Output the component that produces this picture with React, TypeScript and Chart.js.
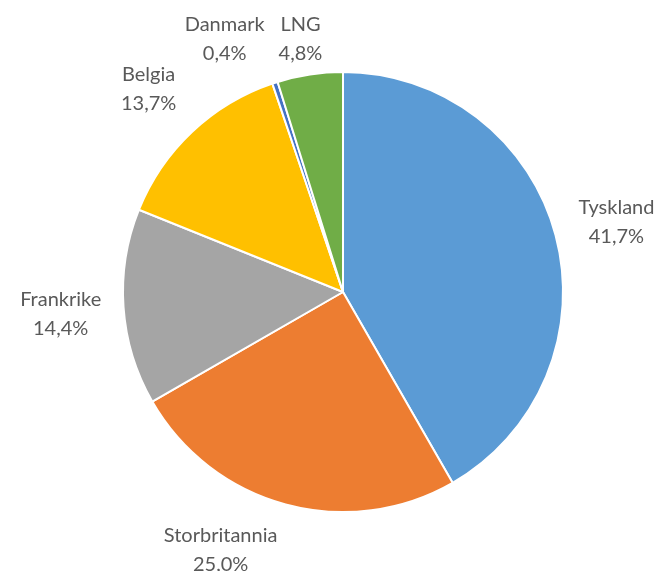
import React, { useEffect, useRef } from "react";
import { Chart, registerables } from "chart.js";

Chart.register(...registerables);

const CATEGORIES = ["Tyskland", "Storbritannia", "Frankrike", "Belgia", "Danmark", "LNG"];
const SHARES = [41.7, 25.0, 14.4, 13.7, 0.4, 4.8];
const COLORS = ["#5B9BD5", "#ED7D31", "#A5A5A5", "#FFC000", "#4472C4", "#70AD47"];

const fmt = (v: number) => v.toFixed(1).replace(".", ",") + "%";

const outsideLabels = {
  id: "outsideLabels",
  afterDatasetsDraw(chart: any) {
    const ctx = chart.ctx;
    const meta = chart.getDatasetMeta(0);
    const W = chart.width;
    const H = chart.height;
    const offset = 63;
    const lh = 29;
    const baseShift = 3;
    ctx.save();
    ctx.font = "20px Lato";
    ctx.fillStyle = "#595959";
    ctx.textAlign = "center";
    ctx.textBaseline = "middle";
    const boxes = meta.data.map((arc: any, i: number) => {
      const p = arc.getProps(["x", "y", "startAngle", "endAngle", "outerRadius"], true);
      let a = (p.startAngle + p.endAngle) / 2;
      const lines = [CATEGORIES[i], fmt(SHARES[i])];
      const w = Math.max(...lines.map((l) => ctx.measureText(l).width));
      const hh = (lh * (lines.length - 1) + 20) / 2;
      const R = p.outerRadius + offset;
      const place = (ang: number) => ({ cx: p.x + Math.cos(ang) * R, cy: p.y + Math.sin(ang) * R });
      let pos = place(a);
      let guard = 0;
      while (pos.cy + hh > H + 1 && guard++ < 180) {
        a += (a < Math.PI / 2 ? -1 : 1) * (Math.PI / 180) * 0.5;
        pos = place(a);
      }
      if (pos.cy - hh < 12) pos.cy = 12 + hh;
      pos.cx = Math.min(Math.max(pos.cx, w / 2 + 4), W - w / 2 - 4);
      return { lines, w, hh, cx: pos.cx, cy: pos.cy, dir: Math.cos(a) };
    });
    for (let iter = 0; iter < 3; iter++) {
      for (let i = 0; i < boxes.length; i++) {
        for (let j = 0; j < boxes.length; j++) {
          if (i === j) continue;
          const A = boxes[i];
          const B = boxes[j];
          const overlapY = Math.abs(A.cy - B.cy) < A.hh + B.hh;
          const ov = (A.w + B.w) / 2 + 14 - Math.abs(A.cx - B.cx);
          if (overlapY && ov > 0 && A.cx < B.cx && A.dir < 0) {
            A.cx -= ov;
          }
        }
      }
    }
    boxes.forEach((b: any) => {
      b.lines.forEach((l: string, k: number) => {
        ctx.fillText(l, b.cx, b.cy + baseShift - (lh * (b.lines.length - 1)) / 2 + k * lh);
      });
    });
    ctx.restore();
  },
};

export default function App() {
  const ref = useRef<HTMLCanvasElement | null>(null);
  useEffect(() => {
    if (!ref.current) return;
    const chart = new Chart(ref.current, {
      type: "pie",
      data: {
        labels: CATEGORIES,
        datasets: [
          {
            data: SHARES,
            backgroundColor: COLORS,
            borderColor: "#FFFFFF",
            borderWidth: 2,
          },
        ],
      },
      options: {
        responsive: false,
        animation: false,
        layout: { padding: { top: 71, bottom: 58, left: 122, right: 100 } },
        plugins: {
          legend: { display: false },
          tooltip: { enabled: false },
        },
      },
      plugins: [outsideLabels],
    });
    return () => chart.destroy();
  }, []);
  return (
    <div style={{ position: "fixed", left: 0, top: 0, width: 664, height: 571, background: "#fff" }}>
      <canvas ref={ref} width={664} height={571} />
    </div>
  );
}
